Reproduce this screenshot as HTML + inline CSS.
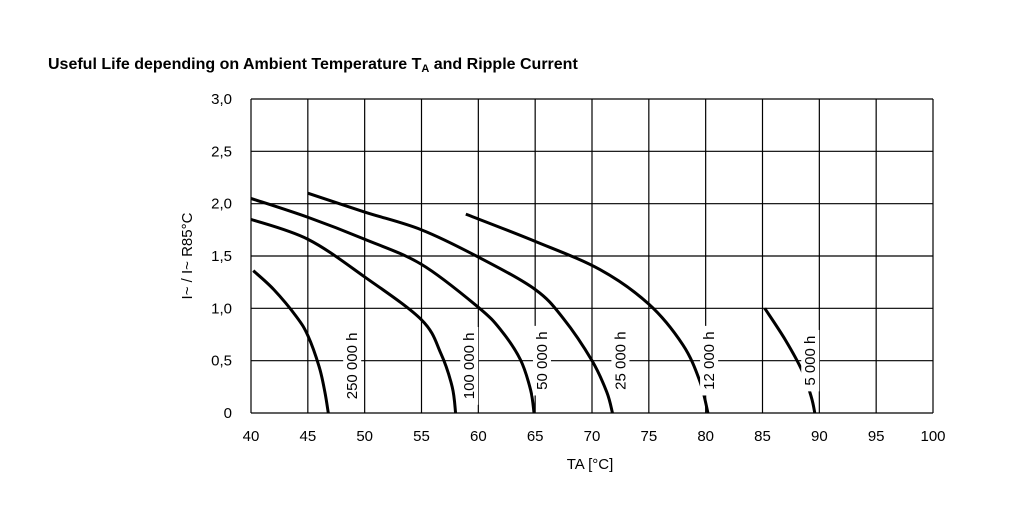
<!DOCTYPE html>
<html><head><meta charset="utf-8"><style>
body{margin:0;background:#fff;}
svg text{font-family:"Liberation Sans",Arial,sans-serif;fill:#000;}
</style></head><body>
<svg width="1023" height="525" viewBox="0 0 1023 525">
<text x="48" y="69" font-size="16" font-weight="bold">Useful Life depending on Ambient Temperature T<tspan font-size="11" dy="3">A</tspan><tspan dy="-3"> and Ripple Current</tspan></text>
<g id="grid"></g><g id="ticks"></g><g id="curves"></g><g id="labels"></g>
<text x="0" y="0" font-size="15" text-anchor="middle" transform="translate(192,256) rotate(-90)">I~ / I~ R85°C</text>
<text x="590" y="469" font-size="15" text-anchor="middle">TA   [°C]</text>
</svg>
<script>
const xTicks=[40,45,50,55,60,65,70,75,80,85,90,95,100];
const yTicks=[0,0.5,1,1.5,2,2.5,3];
const yTickLabels=["0","0,5","1,0","1,5","2,0","2,5","3,0"];
const curveNames=["250 000 h","100 000 h","50 000 h","25 000 h","12 000 h","5 000 h"];
const c250T=[40.2,42,44,45,46,46.5,46.8];
const c250I=[1.36,1.18,0.92,0.74,0.44,0.2,0];
const c100T=[40,45,50,55,56.7,57.7,58];
const c100I=[1.85,1.66,1.30,0.89,0.57,0.25,0];
const c50T=[40,45,50,55,60,62,63.7,64.6,64.9];
const c50I=[2.05,1.87,1.66,1.42,1.01,0.79,0.51,0.22,0];
const c25T=[45,50,55,60,65,67.5,70,71.3,71.8];
const c25I=[2.10,1.92,1.75,1.49,1.18,0.9,0.5,0.2,0];
const c12T=[58.9,65,70.7,75,78,79.5,80.2];
const c12I=[1.90,1.64,1.37,1.04,0.65,0.3,0];
const c5T=[85.2,87,88.5,89.3,89.6];
const c5I=[1.0,0.7,0.4,0.15,0];
const curveT=[c250T,c100T,c50T,c25T,c12T,c5T];
const curveI=[c250I,c100I,c50I,c25I,c12I,c5I];
const labelT=[48.9,59.2,65.6,72.5,80.3,89.2];
const labelI=[0.45,0.45,0.5,0.5,0.5,0.5];

const X0=251,X1=933,Y0=413,Y1=99;
const xs=t=>X0+(t-40)/60*(X1-X0);
const ys=v=>Y0-v/3*(Y0-Y1);
const NS="http://www.w3.org/2000/svg";
function mk(tag,attrs,parent){const e=document.createElementNS(NS,tag);for(const k in attrs)e.setAttribute(k,attrs[k]);parent.appendChild(e);return e;}
const grid=document.getElementById('grid'),ticks=document.getElementById('ticks'),curves=document.getElementById('curves'),labels=document.getElementById('labels');
xTicks.forEach((t,i)=>{
 const l=mk('line',{x1:xs(t),x2:xs(t),y1:Y1,y2:Y0,stroke:'#000','stroke-width':1.2},grid);
 
 
 const tx=mk('text',{x:xs(t),y:441,'font-size':15,'text-anchor':'middle'},ticks);
 tx.textContent=String(t);
 
 
});
yTicks.forEach((v,i)=>{
 const l=mk('line',{x1:X0,x2:X1,y1:ys(v),y2:ys(v),stroke:'#000','stroke-width':1.2},grid);
 
 
 const tx=mk('text',{x:232,y:ys(v)+5,'font-size':15,'text-anchor':'end'},ticks);
 tx.textContent=yTickLabels[i];
 
 
});
function path(T,I){
 const p=T.map((t,i)=>[xs(t),ys(I[i])]);
 let d='M'+p[0][0]+','+p[0][1];
 for(let i=0;i<p.length-1;i++){
  const a=p[Math.max(i-1,0)],b=p[i],c=p[i+1],e=p[Math.min(i+2,p.length-1)];
  const c1=[b[0]+(c[0]-a[0])/6,b[1]+(c[1]-a[1])/6],c2=[c[0]-(e[0]-b[0])/6,c[1]-(e[1]-b[1])/6];
  d+=' C'+c1+' '+c2+' '+c;
 }
 return d;
}
curveT.forEach((T,k)=>{
 const p=mk('path',{d:path(T,curveI[k]),fill:'none',stroke:'#000','stroke-width':3},curves);
 
 
});
curveNames.forEach((n,k)=>{
 const cx=xs(labelT[k]),cy=ys(labelI[k]);
 const w=n.length*8.2;
 const r=mk('rect',{x:cx-9,y:cy-w/2-2,width:18,height:w+4,fill:'#fff'},labels);
 
 
 const t=mk('text',{x:0,y:0,'font-size':15,'text-anchor':'middle',transform:`translate(${cx+5},${cy}) rotate(-90)`},labels);
 t.textContent=n;
 
 
});
</script>
</body></html>
